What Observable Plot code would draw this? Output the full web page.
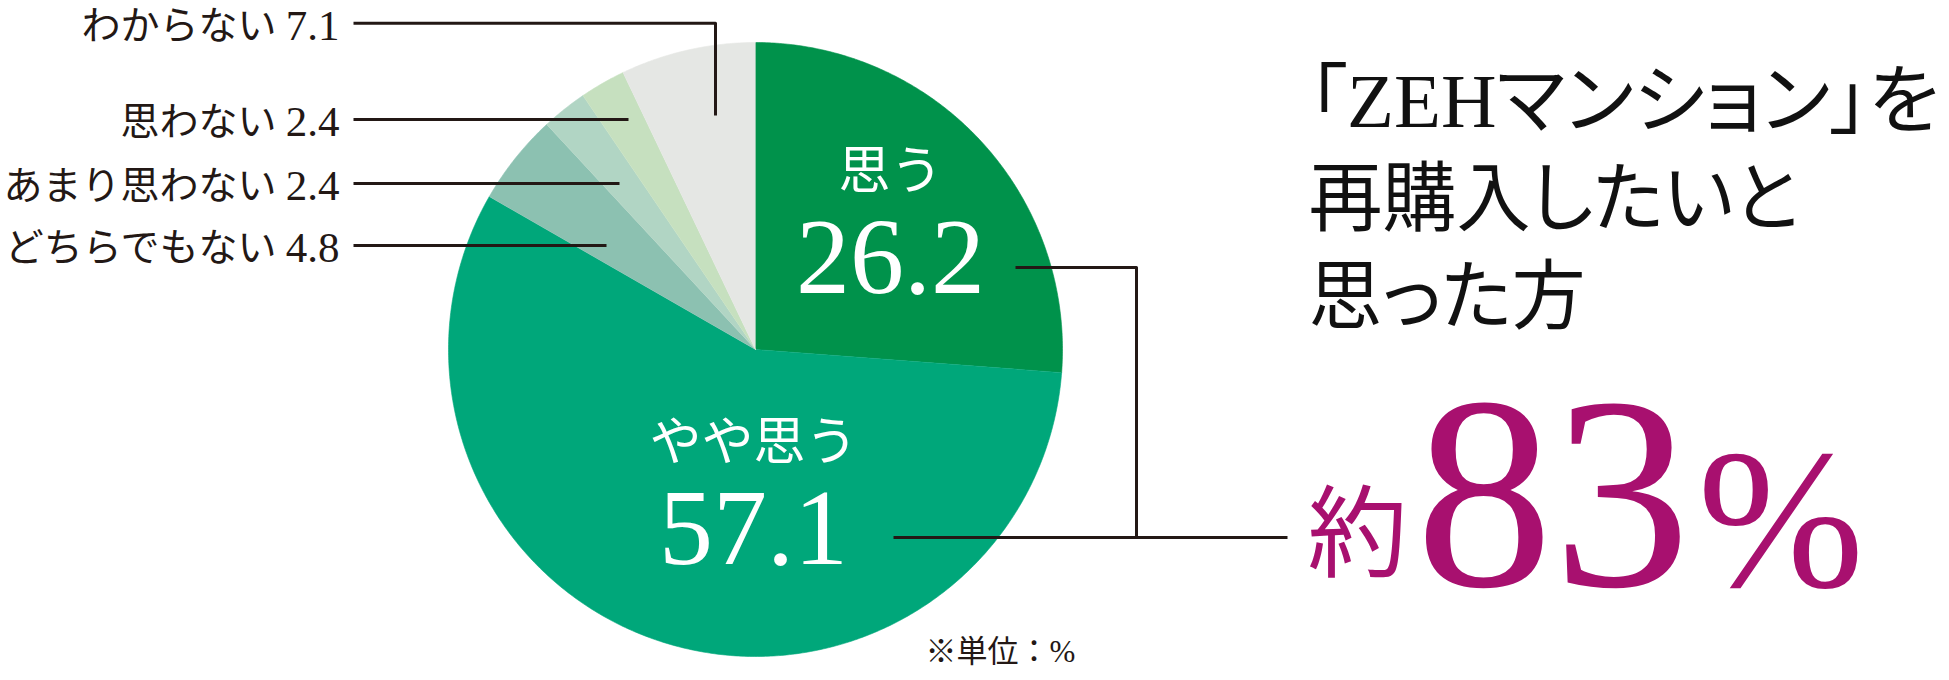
<!DOCTYPE html>
<html><head><meta charset="utf-8">
<script src="https://cdn.jsdelivr.net/npm/d3@7"></script>
<script src="https://cdn.jsdelivr.net/npm/@observablehq/plot@0.6"></script>
<style>
html,body{margin:0;padding:0;background:#fff;overflow:hidden;}
</style></head><body><div id="chart"></div>
<script>
// ---- data ----
const categories = ["思う", "やや思う", "どちらでもない", "あまり思わない", "思わない", "わからない"];
const values = [26.2, 57.1, 4.8, 2.4, 2.4, 7.1];
const palette = ["#00924b", "#00a77a", "#8cc1b1", "#b1d5c4", "#c6e0bf", "#e5e7e4"];
const titleLines = ["「ZEHマンション」を", "再購入したいと", "思った方"];
const approxPrefix = "約";
const percentSign = "%";
const caption = "※単位：%";

// ---- layout ----
const W = 1949, H = 680, cx = 755, cy = 349, R = 307;
const ink = "#231815";
const serif = "'Liberation Serif','Noto Sans CJK JP',serif";
const smallLabelY = {"わからない": 22.7, "思わない": 119, "あまり思わない": 183, "どちらでもない": 245};
const leaderEndX = {"わからない": 715, "思わない": 628, "あまり思わない": 619, "どちらでもない": 606};
const elbowEndY = 115;
const smallNumRight = 339, smallNameRight = 276, smallLineStart = 353;
const bigLabelPos = {"思う": {x: 890, yName: 172, yValue: 292}, "やや思う": {x: 753, yName: 443, yValue: 563}};
const bracketX = 1136, bracketTopY = 267, summaryY = 537;
const titleX = 1308, titleY = [102, 200, 298], titleWidth = [631, 490, 277];

const data = categories.map((c, i) => ({name: c, value: values[i]}));
const arcs = d3.pie().sort(null).value(d => d.value)(data);

// slice polygons
const slicePts = arcs.flatMap(a => {
  const n = Math.max(2, Math.ceil((a.endAngle - a.startAngle) / (Math.PI / 360)));
  const pts = [{name: a.data.name, x: cx, y: cy}];
  for (let k = 0; k <= n; k++) {
    const t = a.startAngle + (a.endAngle - a.startAngle) * k / n;
    pts.push({name: a.data.name, x: cx + R * Math.sin(t), y: cy - R * Math.cos(t)});
  }
  return pts;
});

// small-slice labels and leaders
const small = arcs.filter(a => a.data.name in smallLabelY).map(a => ({name: a.data.name, value: a.data.value, y: smallLabelY[a.data.name]}));
const leaderPts = small.flatMap(s => {
  const ex = leaderEndX[s.name];
  const pts = [{k: s.name, x: smallLineStart, y: s.y}, {k: s.name, x: ex, y: s.y}];
  if (s.name === "わからない") pts.push({k: s.name, x: ex, y: elbowEndY});
  return pts;
});

// big labels
const big = arcs.filter(a => a.data.name in bigLabelPos).map(a => ({name: a.data.name, value: a.data.value, ...bigLabelPos[a.data.name]}));
const total = Math.round(d3.sum(big, d => d.value));
const p1 = big[0], p2 = big[1];
const bracketPts = [
  {k: "a", x: p1.x + 125, y: bracketTopY}, {k: "a", x: bracketX, y: bracketTopY}, {k: "a", x: bracketX, y: summaryY},
  {k: "b", x: p2.x + 140, y: summaryY}, {k: "b", x: 1287, y: summaryY}
];

const chart = Plot.plot({
  width: W, height: H,
  margin: 0,
  x: {domain: [0, W], range: [0, W], axis: null},
  y: {domain: [0, H], range: [0, H], axis: null},
  color: {domain: categories, range: palette},
  style: {background: "#fff", overflow: "visible"},
  marks: [
    Plot.line(slicePts, {x: "x", y: "y", z: "name", fill: "name", stroke: "name", strokeWidth: 0.6, curve: "linear"}),
    Plot.line(leaderPts, {x: "x", y: "y", z: "k", stroke: ink, strokeWidth: 3, strokeLinecap: "butt"}),
    Plot.line(bracketPts, {x: "x", y: "y", z: "k", stroke: ink, strokeWidth: 3, strokeLinecap: "butt"}),
    Plot.text(small, {x: smallNameRight, y: d => d.y + 3, text: "name",
      textAnchor: "end", lineAnchor: "middle", fontSize: 39, fontFamily: serif, fill: ink}),
    Plot.text(small, {x: smallNumRight, y: d => d.y + 3, text: d => d.value.toFixed(1),
      textAnchor: "end", lineAnchor: "middle", fontSize: 43, fontFamily: serif, fill: ink}),
    Plot.text(big, {x: "x", y: "yName", text: "name", textAnchor: "middle", lineAnchor: "middle",
      fontSize: 52, fontFamily: serif, fill: "#fff"}),
    Plot.text(big, {x: "x", y: "yValue", text: d => d.value.toFixed(1), textAnchor: "middle", lineAnchor: "bottom",
      fontSize: 108, fontFamily: serif, fill: "#fff"}),
    Plot.text(titleLines, {x: titleX, y: (d, i) => titleY[i], text: d => d, textAnchor: "start", lineAnchor: "middle",
      fontSize: 76, fontFamily: serif, fill: "#111"}),
    Plot.text([approxPrefix], {x: 1357, y: 536, text: d => d, textAnchor: "middle", lineAnchor: "middle",
      fontSize: 100, fontFamily: serif, fill: "#a8106f"}),
    Plot.text([String(total)], {x: 1415, y: 585, text: d => d, textAnchor: "start", lineAnchor: "bottom",
      fontSize: 275, fontFamily: serif, fill: "#a8106f"}),
    Plot.text([percentSign], {x: 1697, y: 585, text: d => d, textAnchor: "start", lineAnchor: "bottom",
      fontSize: 200, fontFamily: serif, fill: "#a8106f"}),
    Plot.text([caption], {x: 925, y: 652, text: d => d, textAnchor: "start", lineAnchor: "middle",
      fontSize: 31, fontFamily: serif, fill: ink})
  ]
});
// proportional kana metrics + fit each title line to its measured width
d3.select(chart).selectAll("text")
  .filter(function() { return titleLines.includes(this.textContent); })
  .style("font-feature-settings", '"palt" 1')
  .each(function() {
    const i = titleLines.indexOf(this.textContent);
    this.setAttribute("textLength", titleWidth[i]);
    this.setAttribute("lengthAdjust", "spacingAndGlyphs");
  });
document.getElementById("chart").append(chart);
</script></body></html>
